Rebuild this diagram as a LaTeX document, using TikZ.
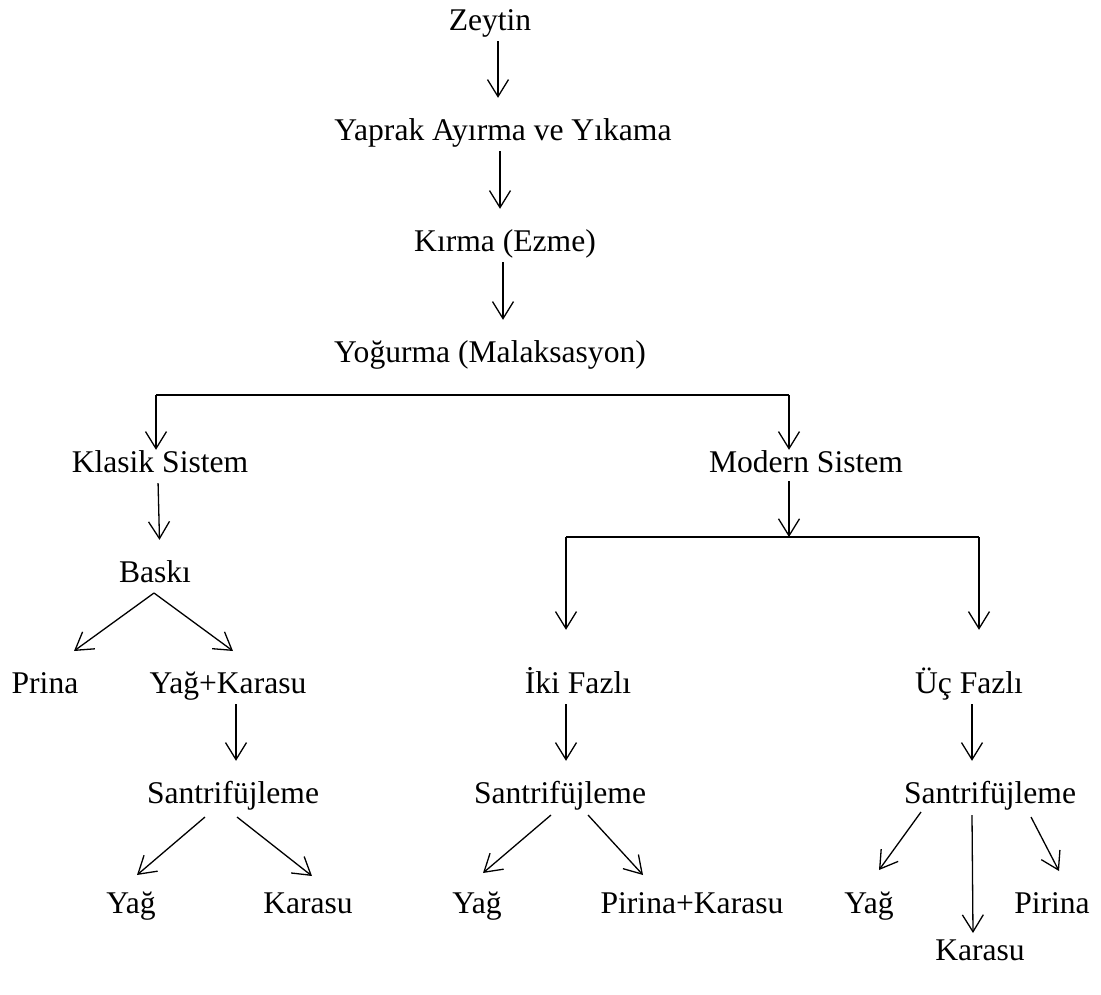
\documentclass[tikz,border=0pt]{standalone}
\usepackage{fontspec}
\setmainfont{Liberation Serif}
\newfontfamily\diagfont{Liberation Serif}
\usepackage{tikz}
\usetikzlibrary{arrows.meta, calc}

\begin{document}
\begin{tikzpicture}[
    x=1pt, y=-1pt,
    lbl/.style={anchor=base, inner sep=0pt, text height=22pt, text depth=8pt, font=\diagfont\fontsize{31.6}{32}\selectfont},
    arrow/.style={-{Straight Barb[length=17pt, width=21pt]}, line width=1.3pt, black},
    down/.style={arrow, shorten <=3pt, shorten >=20pt},
    drop/.style={arrow, shorten >=41pt},
    bar/.style={line width=2.5pt, black}
]
\useasboundingbox (0,0) rectangle (1101,994);

% main line
\node[lbl] (zeytin) at (490,30) {Zeytin};
\node[lbl] (yaprak) at (503,140) {Yaprak Ayırma ve Yıkama};
\node[lbl] (kirma) at (505,251) {Kırma (Ezme)};
\node[lbl] (yogurma) at (490,362) {Yoğurma (Malaksasyon)};
\node[lbl] (klasik) at (160,472) {Klasik Sistem};
\node[lbl] (modern) at (806,472) {Modern Sistem};

% klasik sistem
\node[lbl] (baski) at (155,582) {Baskı};
\node[lbl] (prina) at (45,693) {Prina};
\node[lbl] (yk) at (228,693) {Yağ+Karasu};
\node[lbl] (santri1) at (233,803) {Santrifüjleme};
\node[lbl] (yag1) at (131,913) {Yağ};
\node[lbl] (karasu1) at (308,913) {Karasu};

% modern sistem
\node[lbl] (iki) at (578,693) {İki Fazlı};
\node[lbl] (uc) at (969,693) {Üç Fazlı};
\node[lbl] (santri2) at (560,803) {Santrifüjleme};
\node[lbl] (yag2) at (477,913) {Yağ};
\node[lbl] (pk) at (692,913) {Pirina+Karasu};
\node[lbl] (santri3) at (990,803) {Santrifüjleme};
\node[lbl] (yag3) at (869,913) {Yağ};
\node[lbl] (pirina3) at (1052,913) {Pirina};
\node[lbl] (karasu3) at (980,960) {Karasu};

\coordinate (bar1L) at (156,395);
\coordinate (bar1R) at (789,395);
\coordinate (bar2L) at (566,537);
\coordinate (bar2R) at (979,537);

\draw[down] ([xshift=8pt]zeytin.south) -- ([xshift=-5pt]yaprak.north);
\draw[down] ([xshift=-3pt]yaprak.south) -- ([xshift=-5pt]kirma.north);
\draw[down] ([xshift=-2pt]kirma.south) -- ([xshift=13pt]yogurma.north);

\draw[bar] (bar1L) -- (bar1R);
\draw[arrow] (bar1L) -- (bar1L |- klasik.north);
\draw[arrow] (bar1R) -- (bar1R |- modern.north);

\draw[down] ([xshift=-2pt]klasik.south) -- ([xshift=5pt]baski.north);
\draw[arrow] ([shift={(-1,11)}]baski.base) -- ([shift={(29,-42)}]prina.base);
\draw[arrow] ([shift={(-1,11)}]baski.base) -- ([shift={(5,-42)}]yk.base);
\draw[down] ([xshift=8pt]yk.south) -- ([xshift=3pt]santri1.north);
\draw[arrow] ([shift={(-28,14)}]santri1.base) -- ([shift={(6,-38)}]yag1.base);
\draw[arrow] ([shift={(4,14)}]santri1.base) -- ([shift={(4,-37)}]karasu1.base);

\draw[arrow, shorten <=1pt] (bar1R |- modern.south) -- (bar1R |- bar2L);
\draw[bar] (bar2L) -- (bar2R);
\draw[drop] (bar2L) -- (bar2L |- iki.north);
\draw[drop] (bar2R) -- (bar2R |- uc.north);

\draw[down] ([xshift=-12pt]iki.south) -- ([xshift=6pt]santri2.north);
\draw[arrow] ([shift={(-9,12)}]santri2.base) -- ([shift={(6,-40)}]yag2.base);
\draw[arrow] ([shift={(28,12)}]santri2.base) -- ([shift={(-49,-38)}]pk.base);

\draw[down] ([xshift=3pt]uc.south) -- ([xshift=-18pt]santri3.north);
\draw[arrow] ([shift={(-69,9)}]santri3.base) -- ([shift={(10,-43)}]yag3.base);
\draw[arrow] ([shift={(-18,12)}]santri3.base) -- ([shift={(-7,-27)}]karasu3.base);
\draw[arrow] ([shift={(41,14)}]santri3.base) -- ([shift={(7,-42)}]pirina3.base);
\end{tikzpicture}
\end{document}
